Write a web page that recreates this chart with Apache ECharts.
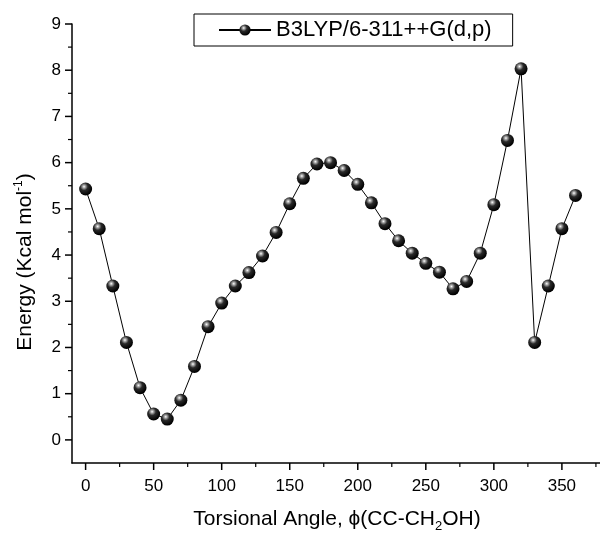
<!DOCTYPE html>
<html>
<head>
<meta charset="utf-8">
<script src="https://cdn.jsdelivr.net/npm/echarts@6/dist/echarts.min.js"></script>
<style>html,body{margin:0;padding:0;background:#fff}#c{width:600px;height:537px}</style>
</head>
<body>
<div id="c"></div>
<script>
const angles = [0,10,20,30,40,50,60,70,80,90,100,110,120,130,140,150,160,170,180,190,200,210,220,230,240,250,260,270,280,290,300,310,320,330,340,350,360];
const energies = [5.43,4.57,3.33,2.11,1.13,0.56,0.45,0.86,1.59,2.45,2.96,3.33,3.62,3.98,4.49,5.11,5.66,5.97,6.00,5.83,5.53,5.13,4.68,4.31,4.04,3.82,3.63,3.27,3.43,4.04,5.09,6.48,8.03,2.11,3.33,4.57,5.29];
const seriesName = 'B3LYP/6-311++G(d,p)';
const xTicks = [0,50,100,150,200,250,300,350];
const xMinorTicks = [25,75,125,175,225,275,325,375];
const yTicks = [0,1,2,3,4,5,6,7,8,9];
const yMinorTicks = [0.5,1.5,2.5,3.5,4.5,5.5,6.5,7.5,8.5];

const X_MIN = -10, X_MAX = 378, Y_MIN = -0.5, Y_MAX = 9;
const chart = echarts.init(document.getElementById('c'));
const font = 'Arial, "Liberation Sans", sans-serif';
const sphere = {
  type: 'radial', x: 0.38, y: 0.32, r: 0.65,
  colorStops: [
    {offset: 0, color: '#ffffff'},
    {offset: 0.15, color: '#b0b0b0'},
    {offset: 0.45, color: '#2a2a2a'},
    {offset: 1, color: '#000000'}
  ]
};
const data = angles.map((a, i) => [a, energies[i]]);
const axisLineStyle = {color: '#000', width: 1.5};

function tickSeries(values, dir, len, width) {
  return {
    type: 'custom', silent: true, clip: false, z: 5,
    legendHoverLink: false,
    data: values.map(v => dir === 'x' ? [v, Y_MIN] : [X_MIN, v]),
    renderItem: function (params, api) {
      const p = api.coord([api.value(0), api.value(1)]);
      const shape = dir === 'x'
        ? {x1: p[0], y1: p[1], x2: p[0], y2: p[1] + len}
        : {x1: p[0], y1: p[1], x2: p[0] - len, y2: p[1]};
      return {type: 'line', shape: shape, style: {stroke: '#000', lineWidth: width}};
    }
  };
}

chart.setOption({
  animation: false,
  backgroundColor: '#fff',
  grid: {left: 72, top: 24, right: 0, bottom: 74, containLabel: false, outerBoundsMode: 'none'},
  legend: {
    data: [seriesName],
    left: 194, top: 14,
    borderColor: '#000', borderWidth: 1,
    padding: [5, 21, 5, 24],
    itemWidth: 52, itemHeight: 14, itemGap: 8,
    textStyle: {fontFamily: font, fontSize: 22, color: '#000'}
  },
  graphic: [{
    type: 'text',
    rotation: Math.PI / 2,
    x: 25, y: 262,
    style: {
      text: '{n|Energy (Kcal mol}{s|-1}{n|)}',
      align: 'center', verticalAlign: 'middle',
      rich: {
        n: {fontFamily: font, fontSize: 21, fill: '#000'},
        s: {fontFamily: font, fontSize: 12, fill: '#000', verticalAlign: 'top', padding: [0, 0, 12, 0]}
      }
    }
  }, {
    type: 'text',
    x: 337, y: 519,
    style: {
      text: '{n|Torsional Angle, }{n|ϕ}{n|(CC-CH}{s|2}{n|OH)}',
      align: 'center', verticalAlign: 'middle',
      rich: {
        n: {fontFamily: font, fontSize: 21, fill: '#000'},
        s: {fontFamily: font, fontSize: 13, fill: '#000', verticalAlign: 'bottom', padding: [14, 0, 0, 0]}
      }
    }
  }],
  xAxis: {
    type: 'value', min: X_MIN, max: X_MAX,
    axisLine: {show: true, onZero: false, lineStyle: axisLineStyle},
    axisTick: {show: false},
    axisLabel: {fontFamily: font, fontSize: 17, color: '#000', margin: 15, customValues: xTicks},
    splitLine: {show: false}
  },
  yAxis: {
    type: 'value', min: Y_MIN, max: Y_MAX,
    axisLine: {show: true, onZero: false, lineStyle: axisLineStyle},
    axisTick: {show: false},
    axisLabel: {fontFamily: font, fontSize: 17, color: '#000', margin: 11, customValues: yTicks},
    splitLine: {show: false}
  },
  series: [
    {
      name: seriesName, type: 'line', data: data,
      symbol: 'circle', symbolSize: 13,
      lineStyle: {color: '#000', width: 1},
      itemStyle: {color: sphere, borderWidth: 0},
      z: 3
    },
    tickSeries(xTicks, 'x', 7, 1.5),
    tickSeries(xMinorTicks, 'x', 4, 1.2),
    tickSeries(yTicks, 'y', 7, 1.5),
    tickSeries(yMinorTicks, 'y', 4, 1.2)
  ]
});
</script>
</body>
</html>
